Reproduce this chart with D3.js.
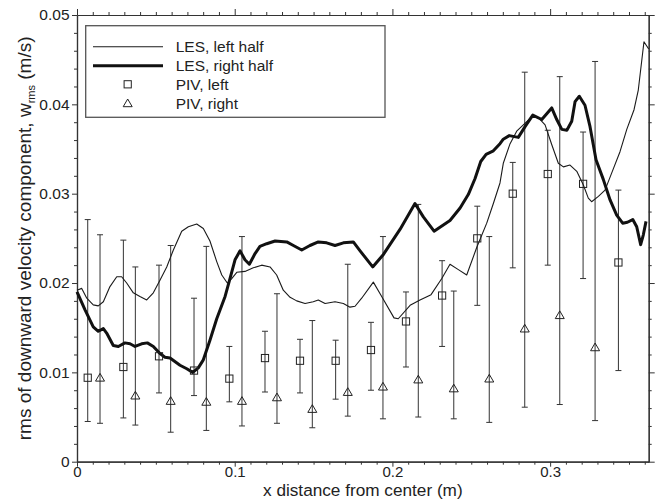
<!DOCTYPE html>
<html>
<head>
<meta charset="utf-8">
<script src="https://cdn.jsdelivr.net/npm/d3@7"></script>
<style>
  body { margin: 0; background: #fff; }
  svg { display: block; font-family: "Liberation Sans", Arial, Helvetica, sans-serif; }
</style>
</head>
<body>
<svg id="chart" width="655" height="499"></svg>
<script>
// LES, left half (thin line)
const lesLeftX = [0, 0.003, 0.0062, 0.0103, 0.0135, 0.0167, 0.0209, 0.0252, 0.0283, 0.0315, 0.0357, 0.0399, 0.0442, 0.0484, 0.0526, 0.0569, 0.0611, 0.0664, 0.0706, 0.0759, 0.0801, 0.0843, 0.0886, 0.0918, 0.0953, 0.0981, 0.1013, 0.1065, 0.1118, 0.1171, 0.1224, 0.1266, 0.1308, 0.1351, 0.1393, 0.1446, 0.1498, 0.1530, 0.1573, 0.1636, 0.1689, 0.1731, 0.1763, 0.1805, 0.1879, 0.1932, 0.2010, 0.2037, 0.2112, 0.2175, 0.2245, 0.2313, 0.2365, 0.2418, 0.2471, 0.2535, 0.2598, 0.2640, 0.2682, 0.2703, 0.2746, 0.2788, 0.2830, 0.2883, 0.2925, 0.2968, 0.3010, 0.3052, 0.3084, 0.3126, 0.3169, 0.3210, 0.3242, 0.3263, 0.3306, 0.3348, 0.3390, 0.3443, 0.3486, 0.3532, 0.3559, 0.3595, 0.3625];
const lesLeftY = [0.0192, 0.0194, 0.0183, 0.01755, 0.01744, 0.0179, 0.0196, 0.0207, 0.0207, 0.0200, 0.0189, 0.01848, 0.0181, 0.0189, 0.0203, 0.0218, 0.0237, 0.0258, 0.0263, 0.0266, 0.0261, 0.0247, 0.0224, 0.0209, 0.0200, 0.0205, 0.0212, 0.0213, 0.0217, 0.0220, 0.0218, 0.0209, 0.0192, 0.0184, 0.0180, 0.0177, 0.0179, 0.0181, 0.0177, 0.0179, 0.0177, 0.0173, 0.0174, 0.0183, 0.0201, 0.0185, 0.0161, 0.0160, 0.0175, 0.0181, 0.0187, 0.0205, 0.0221, 0.0215, 0.0209, 0.0240, 0.0267, 0.0289, 0.0312, 0.0334, 0.0356, 0.0370, 0.0377, 0.0386, 0.0385, 0.0377, 0.0355, 0.0334, 0.0330, 0.0332, 0.0325, 0.0310, 0.0295, 0.0291, 0.0297, 0.0304, 0.0323, 0.0347, 0.0372, 0.0394, 0.0416, 0.0470, 0.0462];

// LES, right half (thick line)
const lesRightX = [0, 0.0051, 0.0103, 0.0135, 0.0167, 0.0188, 0.0230, 0.0262, 0.0304, 0.0336, 0.0368, 0.0410, 0.0446, 0.0484, 0.0526, 0.0558, 0.0590, 0.0653, 0.0696, 0.0734, 0.0769, 0.0801, 0.0843, 0.0886, 0.0939, 0.0970, 0.1002, 0.1034, 0.1065, 0.1093, 0.1129, 0.1160, 0.1203, 0.1256, 0.1330, 0.1372, 0.1425, 0.1477, 0.1530, 0.1583, 0.1636, 0.1689, 0.1752, 0.1795, 0.1875, 0.1943, 0.2048, 0.2143, 0.2196, 0.2264, 0.2365, 0.2429, 0.2481, 0.2524, 0.2560, 0.2594, 0.2640, 0.2682, 0.2703, 0.2741, 0.2798, 0.2841, 0.2890, 0.2947, 0.3010, 0.3042, 0.3074, 0.3106, 0.3137, 0.3158, 0.3185, 0.3221, 0.3253, 0.3291, 0.3337, 0.3380, 0.3422, 0.3460, 0.3490, 0.3524, 0.3549, 0.3574, 0.3591, 0.3608];
const lesRightY = [0.0190, 0.0170, 0.0151, 0.0146, 0.0149, 0.0144, 0.0130, 0.0129, 0.0133, 0.0132, 0.0129, 0.0132, 0.0133, 0.0129, 0.0121, 0.0117, 0.0116, 0.0108, 0.0104, 0.0100, 0.0105, 0.0114, 0.0136, 0.0160, 0.0185, 0.0205, 0.0226, 0.0236, 0.0226, 0.0221, 0.0233, 0.0241, 0.0244, 0.0247, 0.0246, 0.0242, 0.0237, 0.0242, 0.0246, 0.0245, 0.0242, 0.0245, 0.0246, 0.0236, 0.0218, 0.0232, 0.0260, 0.0289, 0.0274, 0.0258, 0.0270, 0.0284, 0.0299, 0.0317, 0.0336, 0.0344, 0.0348, 0.0356, 0.0361, 0.0365, 0.0363, 0.0375, 0.0388, 0.0383, 0.0396, 0.0383, 0.0372, 0.0371, 0.0381, 0.0403, 0.0409, 0.0399, 0.0375, 0.0338, 0.0316, 0.0293, 0.0276, 0.0267, 0.0268, 0.0271, 0.0263, 0.0243, 0.0254, 0.0269];

// PIV, left (squares) with error ranges
const pivLeftX  = [0.0068, 0.0294, 0.0520, 0.0742, 0.0966, 0.1192, 0.1414, 0.1640, 0.1864, 0.2086, 0.2315, 0.2538, 0.2763, 0.2985, 0.3209, 0.3433];
const pivLeftY  = [0.0094, 0.0106, 0.0118, 0.0102, 0.0093, 0.0116, 0.0113, 0.0113, 0.0125, 0.0157, 0.0186, 0.0250, 0.0300, 0.0322, 0.0311, 0.0223];
const pivLeftLo = [0.0045, 0.0049, 0.0077, 0.0074, 0.0067, 0.0078, 0.0077, 0.0070, 0.0080, 0.0106, 0.0129, 0.0175, 0.0217, 0.0220, 0.0205, 0.0102];
const pivLeftHi = [0.0271, 0.0248, 0.0220, 0.0183, 0.0129, 0.0146, 0.0137, 0.0136, 0.0156, 0.0190, 0.0225, 0.0286, 0.0335, 0.0371, 0.0369, 0.0304];

// PIV, right (triangles) with error ranges
const pivRightX  = [0.0146, 0.0370, 0.0594, 0.0820, 0.1046, 0.1268, 0.1492, 0.1717, 0.1940, 0.2164, 0.2389, 0.2614, 0.2839, 0.3061, 0.3285];
const pivRightY  = [0.0094, 0.0074, 0.0068, 0.0067, 0.0068, 0.0072, 0.0059, 0.0078, 0.0084, 0.0092, 0.0082, 0.0093, 0.0149, 0.0164, 0.0128];
const pivRightLo = [0.0043, 0.0041, 0.0033, 0.0035, 0.0040, 0.0043, 0.0038, 0.0051, 0.0048, 0.0050, 0.0048, 0.0044, 0.0061, 0.0064, 0.0046];
const pivRightHi = [0.0254, 0.0218, 0.0242, 0.0241, 0.0252, 0.0188, 0.0158, 0.0221, 0.0252, 0.0288, 0.0191, 0.0252, 0.0436, 0.0431, 0.0448];

// Axis ticks
const xMajor = [0, 0.1, 0.2, 0.3];
const xTickLabels = ["0", "0.1", "0.2", "0.3"];
const yMajor = [0, 0.01, 0.02, 0.03, 0.04, 0.05];
const yTickLabels = ["0", "0.01", "0.02", "0.03", "0.04", "0.05"];

const legendLabels = ["LES, left half", "LES, right half", "PIV, left", "PIV, right"];

const svg = d3.select("#chart");
const plot = { left: 77, right: 648.7, top: 15, bottom: 461.7 };

const x = d3.scaleLinear().domain([0, 0.3625]).range([plot.left, plot.right]);
const y = d3.scaleLinear().domain([0, 0.05]).range([plot.bottom, plot.top]);

const xMinor = d3.range(0, 37).map(i => i / 100).filter(v => v <= 0.3625 && !xMajor.some(m => Math.abs(m - v) < 1e-9));
const yMinor = d3.range(0, 26).map(i => i * 0.002).filter(v => !yMajor.some(m => Math.abs(m - v) < 1e-9));

const ink = "#222";
const axisCol = "#333";

function styleAxis(g, size) {
  g.select(".domain").attr("stroke", axisCol).attr("stroke-width", 1.2);
  g.selectAll(".tick line").attr("stroke", axisCol).attr("stroke-width", 1);
  g.selectAll(".tick text").attr("fill", ink).attr("font-size", size || "15.5px")
    .attr("font-family", "'Liberation Sans', Arial, sans-serif");
}

// minor ticks (all four sides)
svg.append("g").attr("transform", `translate(0,${plot.bottom})`)
  .call(d3.axisBottom(x).tickValues(xMinor).tickSize(3).tickFormat("").tickSizeOuter(0)).call(styleAxis);
svg.append("g").attr("transform", `translate(0,${plot.top})`)
  .call(d3.axisTop(x).tickValues(xMinor).tickSize(3).tickFormat("").tickSizeOuter(0)).call(styleAxis);
svg.append("g").attr("transform", `translate(${plot.left},0)`)
  .call(d3.axisLeft(y).tickValues(yMinor).tickSize(3).tickFormat("").tickSizeOuter(0)).call(styleAxis);
svg.append("g").attr("transform", `translate(${plot.right},0)`)
  .call(d3.axisRight(y).tickValues(yMinor).tickSize(3).tickFormat("").tickSizeOuter(0)).call(styleAxis);

// major ticks
svg.append("g").attr("transform", `translate(0,${plot.bottom})`)
  .call(d3.axisBottom(x).tickValues(xMajor).tickSize(5).tickPadding(0).tickSizeOuter(0)
    .tickFormat((d, i) => xTickLabels[i])).call(g => styleAxis(g, "15px"));
svg.append("g").attr("transform", `translate(0,${plot.top})`)
  .call(d3.axisTop(x).tickValues(xMajor).tickSize(6).tickFormat("").tickSizeOuter(0)).call(styleAxis);
svg.append("g").attr("transform", `translate(${plot.left},0)`)
  .call(d3.axisLeft(y).tickValues(yMajor).tickSize(5).tickPadding(2.5).tickSizeOuter(0)
    .tickFormat((d, i) => yTickLabels[i])).call(styleAxis);
svg.append("g").attr("transform", `translate(${plot.right},0)`)
  .call(d3.axisRight(y).tickValues(yMajor).tickSize(6).tickFormat("").tickSizeOuter(0)).call(styleAxis);

// axis titles
svg.append("text")
  .attr("x", (plot.left + plot.right) / 2).attr("y", 496)
  .attr("text-anchor", "middle").attr("font-size", "17.2px").attr("fill", ink)
  .text("x distance from center (m)");

const yt = svg.append("text")
  .attr("transform", `translate(31,${(plot.top + plot.bottom) / 2}) rotate(-90)`)
  .attr("text-anchor", "middle").attr("font-size", "19px").attr("fill", ink);
yt.append("tspan").text("rms of downward velocity component, w");
yt.append("tspan").attr("font-size", "11px").attr("dy", "4").text("rms");
yt.append("tspan").attr("dy", "-4").text(" (m/s)");

// error bars
const errCol = "#333";
function errorBars(xs, lo, hi) {
  const g = svg.append("g").attr("stroke", errCol).attr("stroke-width", 1).attr("fill", "none");
  xs.forEach((xv, i) => {
    const cx = x(xv);
    g.append("line").attr("x1", cx).attr("x2", cx).attr("y1", y(lo[i])).attr("y2", y(hi[i]));
    g.append("line").attr("x1", cx - 3).attr("x2", cx + 3).attr("y1", y(lo[i])).attr("y2", y(lo[i]));
    g.append("line").attr("x1", cx - 3).attr("x2", cx + 3).attr("y1", y(hi[i])).attr("y2", y(hi[i]));
  });
}
errorBars(pivLeftX, pivLeftLo, pivLeftHi);
errorBars(pivRightX, pivRightLo, pivRightHi);

// LES curves
const line = d3.line().x(d => x(d[0])).y(d => y(d[1]));
svg.append("path")
  .datum(lesLeftX.map((v, i) => [v, lesLeftY[i]]))
  .attr("d", line).attr("fill", "none").attr("stroke", "#1a1a1a").attr("stroke-width", 1.1)
  .attr("stroke-linejoin", "round");
svg.append("path")
  .datum(lesRightX.map((v, i) => [v, lesRightY[i]]))
  .attr("d", line).attr("fill", "none").attr("stroke", "#111").attr("stroke-width", 3)
  .attr("stroke-linejoin", "round");

// markers
const triPath = "M0,-4.3L4.5,3.4L-4.5,3.4Z";
function square(g, cx, cy) {
  g.append("rect").attr("x", cx - 3.6).attr("y", cy - 3.6).attr("width", 7.2).attr("height", 7.2);
}
function triangle(g, cx, cy) {
  g.append("path").attr("d", triPath).attr("transform", `translate(${cx},${cy})`);
}
const mk = svg.append("g").attr("fill", "none").attr("stroke", "#222").attr("stroke-width", 1);
pivLeftX.forEach((v, i) => square(mk, x(v), y(pivLeftY[i])));
pivRightX.forEach((v, i) => triangle(mk, x(v), y(pivRightY[i])));

// legend
const lg = svg.append("g");
lg.append("rect").attr("x", 85.7).attr("y", 25.7).attr("width", 299.3).attr("height", 91.6)
  .attr("fill", "#fff").attr("stroke", "#555").attr("stroke-width", 1.3);
const rowY = [46.7, 65.7, 84.3, 103.3];
lg.append("line").attr("x1", 93).attr("x2", 163).attr("y1", rowY[0]).attr("y2", rowY[0])
  .attr("stroke", "#1a1a1a").attr("stroke-width", 1.1);
lg.append("line").attr("x1", 93).attr("x2", 163).attr("y1", rowY[1]).attr("y2", rowY[1])
  .attr("stroke", "#111").attr("stroke-width", 3);
const lgm = lg.append("g").attr("fill", "none").attr("stroke", "#222").attr("stroke-width", 1);
square(lgm, 127.7, rowY[2]);
triangle(lgm, 127.7, rowY[3]);
legendLabels.forEach((t, i) => {
  lg.append("text").attr("x", 175.7).attr("y", rowY[i] + 5.5)
    .attr("font-size", "15.5px").attr("fill", ink).text(t);
});
</script>
</body>
</html>
